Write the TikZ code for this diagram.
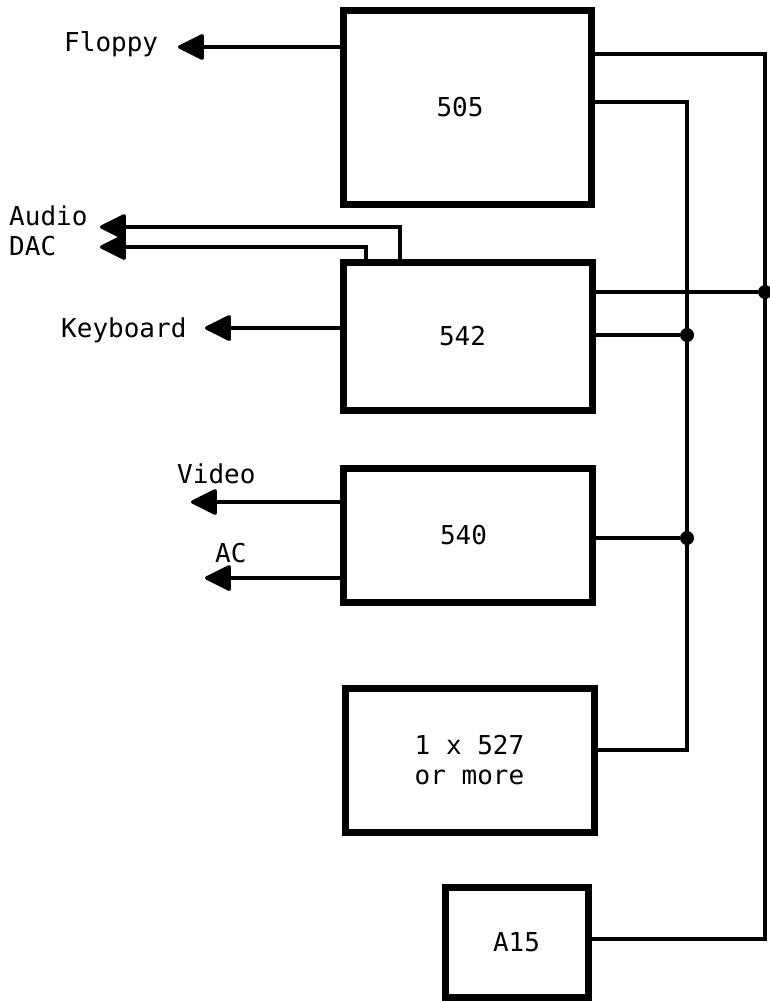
\documentclass[tikz,border=0pt]{standalone}
\usepackage{fontspec}
\setmonofont{DejaVu Sans Mono}
\usetikzlibrary{arrows.meta}
\begin{document}
\begin{tikzpicture}[x=1pt,y=-1pt,
  box/.style={draw, line width=7pt, inner sep=0pt, font=\ttfamily\fontsize{26}{30}\selectfont, align=center},
  wire/.style={line width=3.3pt},
  outarrow/.style={wire, -{Triangle[length=28pt,width=27pt,round]}},
  lbl/.style={font=\ttfamily\fontsize{26}{30}\selectfont, inner sep=0pt},
  dot/.style={circle, fill=black, inner sep=0pt, minimum size=14pt}
]
\useasboundingbox (0,0) rectangle (769,1001);

% boxes
\node[box, minimum width=248pt, minimum height=194pt] (b505) at (467,107) {\hspace*{-14pt}505};
\node[box, minimum width=249pt, minimum height=148pt] (b542) at (467.5,336) {\hspace*{-10pt}542};
\node[box, minimum width=249pt, minimum height=134pt] (b540) at (467.5,535) {\hspace*{-8pt}540};
\node[box, minimum width=249pt, minimum height=144pt] (b527) at (469.5,760) {1 x 527\\or more};
\node[box, minimum width=143pt, minimum height=110pt] (bA15) at (516.5,942) {A15};

% bus coordinates
\coordinate (r1) at (765,54);
\coordinate (r2) at (765,939);
\coordinate (m1) at (687,102);
\coordinate (m2) at (687,750);
\node[dot] (jr) at (765,292) {};
\node[dot] (jm1) at (687,335) {};
\node[dot] (jm2) at (687,538) {};

% right bus
\draw[wire] (b505.east |- r1) -- (r1) -- (r2) -- (bA15.east |- r2);
\draw[wire] (b505.east |- m1) -- (m1) -- (m2) -- (b527.east |- m2);
\draw[wire] (b542.east |- jr) -- (jr);
\draw[wire] (b542.east |- jm1) -- (jm1);
\draw[wire] (b540.east |- jm2) -- (jm2);

% outputs
\coordinate (tFloppy) at (178,47);
\coordinate (tAudio) at (100,227);
\coordinate (tDAC) at (100,247);
\coordinate (tKey) at (205,328);
\coordinate (tVideo) at (191,502);
\coordinate (tAC) at (205,578);
\coordinate (aud) at (400,227);
\coordinate (dac) at (366,247);

\draw[outarrow] (b505.west |- tFloppy) -- (tFloppy);
\draw[outarrow] (b542.north -| aud) -- (aud) -- (tAudio);
\draw[outarrow] (b542.north -| dac) -- (dac) -- (tDAC);
\draw[outarrow] (b542.west |- tKey) -- (tKey);
\draw[outarrow] (b540.west |- tVideo) -- (tVideo);
\draw[outarrow] (b540.west |- tAC) -- (tAC);

% labels
\node[lbl, anchor=base west] (lFloppy) at (64,51) {Floppy};
\node[lbl, anchor=base west] (lAudio) at (9,225) {Audio};
\node[lbl, anchor=base west] (lDAC) at (9,255) {DAC};
\node[lbl, anchor=base west] (lKey) at (61,337) {Keyboard};
\node[lbl, anchor=base west] (lVideo) at (177,483) {Video};
\node[lbl, anchor=base west] (lAC) at (215,562) {AC};
\end{tikzpicture}
\end{document}
